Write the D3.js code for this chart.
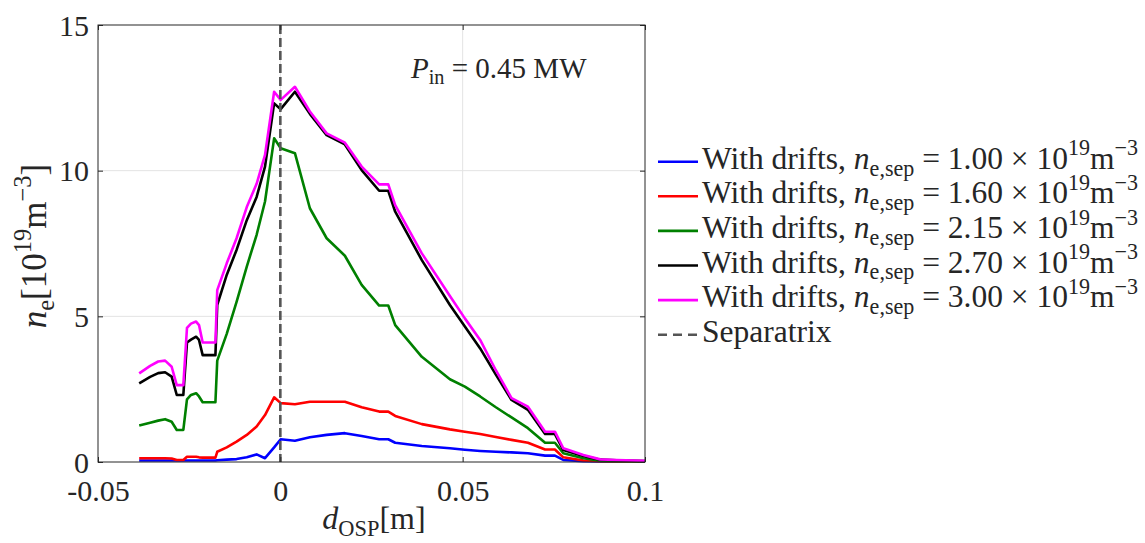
<!DOCTYPE html>
<html>
<head>
<meta charset="utf-8">
<script src="https://cdn.jsdelivr.net/npm/d3@7"></script>
<style>
  html, body { margin: 0; padding: 0; background: #fff; }
  svg { display: block; }
  text { font-family: "Liberation Serif", "DejaVu Serif", serif; fill: #262626; }
</style>
</head>
<body>
<svg id="chart" width="1145" height="543"></svg>
<script>
// ---------------- DATA ----------------
const dOSP = [-0.0387, -0.0357, -0.0335, -0.0316, -0.0298, -0.0284, -0.0266, -0.0256, -0.0245, -0.0231,
  -0.0223, -0.0213, -0.0178, -0.0173, -0.0147, -0.0120, -0.0092, -0.0065, -0.0042, -0.0017,
  0.0001, 0.0040, 0.0081, 0.0127, 0.0177, 0.0223, 0.0271, 0.0296, 0.0315, 0.0388,
  0.0465, 0.0506, 0.0548, 0.0591, 0.0634, 0.0679, 0.0726, 0.0753, 0.0776, 0.0831,
  0.0877, 0.0922, 0.1000];

const ne100 = [0.05, 0.05, 0.05, 0.05, 0.05, 0.05, 0.05, 0.05, 0.05, 0.05,
  0.05, 0.05, 0.05, 0.06, 0.08, 0.10, 0.16, 0.26, 0.13, 0.50,
  0.78, 0.73, 0.85, 0.93, 0.99, 0.89, 0.78, 0.78, 0.66, 0.55,
  0.47, 0.42, 0.38, 0.35, 0.33, 0.30, 0.22, 0.22, 0.07, 0.03,
  0.02, 0.02, 0.02];

const ne160 = [0.13, 0.13, 0.13, 0.13, 0.12, 0.07, 0.07, 0.18, 0.18, 0.18,
  0.16, 0.15, 0.15, 0.35, 0.50, 0.70, 0.93, 1.22, 1.61, 2.22,
  2.02, 1.98, 2.07, 2.07, 2.07, 1.88, 1.73, 1.73, 1.58, 1.30,
  1.12, 1.04, 0.96, 0.86, 0.76, 0.66, 0.43, 0.43, 0.16, 0.05,
  0.03, 0.02, 0.02];

const ne215 = [1.25, 1.35, 1.42, 1.47, 1.38, 1.10, 1.10, 2.15, 2.30, 2.36,
  2.25, 2.05, 2.05, 3.48, 4.40, 5.50, 6.71, 7.80, 8.94, 11.11,
  10.77, 10.60, 8.71, 7.68, 7.08, 6.08, 5.37, 5.37, 4.70, 3.61,
  2.84, 2.59, 2.25, 1.88, 1.53, 1.16, 0.66, 0.66, 0.30, 0.13,
  0.04, 0.03, 0.02];

const ne270 = [2.70, 2.92, 3.05, 3.08, 2.93, 2.30, 2.30, 4.10, 4.20, 4.30,
  4.19, 3.67, 3.67, 5.39, 6.42, 7.28, 8.30, 9.10, 10.14, 12.31,
  12.11, 12.71, 11.95, 11.22, 10.90, 10.02, 9.31, 9.31, 8.59, 6.93,
  5.39, 4.65, 3.90, 3.00, 2.13, 1.79, 0.96, 0.96, 0.41, 0.21,
  0.08, 0.06, 0.03];

const ne300 = [3.04, 3.30, 3.45, 3.48, 3.27, 2.64, 2.64, 4.60, 4.75, 4.82,
  4.70, 4.10, 4.10, 5.90, 6.82, 7.68, 8.75, 9.55, 10.54, 12.71,
  12.43, 12.88, 12.03, 11.28, 10.96, 10.14, 9.53, 9.53, 8.82, 7.16,
  5.70, 4.93, 4.19, 3.15, 2.19, 1.90, 1.04, 1.04, 0.47, 0.24,
  0.09, 0.07, 0.04];

const seriesValues = [ne100, ne160, ne215, ne270, ne300];
const seriesNesep = ["1.00", "1.60", "2.15", "2.70", "3.00"];
const seriesColors = ["#0000ff", "#ff0000", "#008000", "#000000", "#ff00ff"];

const xTicks = [-0.05, 0, 0.05, 0.1];
const xTickLabels = ["-0.05", "0", "0.05", "0.1"];
const yTicks = [0, 5, 10, 15];
const yTickLabels = ["0", "5", "10", "15"];
const separatrixX = 0;
const powerLabel = "0.45";

// ---------------- LAYOUT ----------------
const svg = d3.select("#chart");
const L = 98, R = 645, T = 25, B = 462;
const x = d3.scaleLinear().domain([-0.05, 0.1]).range([L, R]);
const y = d3.scaleLinear().domain([0, 15]).range([B, T]);
const axisColor = "#262626";

// rich text helper: segments [text, style, pos]
function rich(sel, segs, size) {
  let cur = 0;
  segs.forEach(([t, st, pos]) => {
    const fs = pos === "b" ? size : size * 0.7;
    const target = pos === "sub" ? size * 0.22 : pos === "sup" ? -size * 0.42 : 0;
    const ts = sel.append("tspan")
      .attr("font-size", fs)
      .attr("dy", target - cur)
      .text(t);
    if (st === "i") ts.attr("font-style", "italic");
    cur = target;
  });
}

// grid
const grid = svg.append("g");
grid.selectAll("line.gx").data(xTicks.filter(v => v > -0.05 && v < 0.1)).join("line")
  .attr("x1", d => x(d)).attr("x2", d => x(d)).attr("y1", T).attr("y2", B)
  .attr("stroke", "#e3e3e3").attr("stroke-width", 1);
grid.selectAll("line.gy").data(yTicks.filter(v => v > 0 && v < 15)).join("line")
  .attr("x1", L).attr("x2", R).attr("y1", d => y(d)).attr("y2", d => y(d))
  .attr("stroke", "#e3e3e3").attr("stroke-width", 1);

// series lines
const line = d3.line().x((d, i) => x(dOSP[i])).y(d => y(d));
svg.append("g").selectAll("path").data(seriesValues).join("path")
  .attr("d", d => line(d))
  .attr("fill", "none")
  .attr("stroke", (d, i) => seriesColors[i])
  .attr("stroke-width", 2.6)
  .attr("stroke-linejoin", "round");

// separatrix
svg.append("line")
  .attr("x1", x(separatrixX)).attr("x2", x(separatrixX))
  .attr("y1", T).attr("y2", B)
  .attr("stroke", "#555555").attr("stroke-width", 2.6)
  .attr("stroke-dasharray", "9,4");

// axes
const fs = 30;
const xAxis = svg.append("g").attr("transform", `translate(0,${B})`)
  .call(d3.axisBottom(x).tickValues(xTicks).tickFormat((d, i) => xTickLabels[i]).tickSizeInner(-5).tickSizeOuter(0));
const yAxis = svg.append("g").attr("transform", `translate(${L},0)`)
  .call(d3.axisLeft(y).tickValues(yTicks).tickFormat((d, i) => yTickLabels[i]).tickSizeInner(-5).tickSizeOuter(0));
const xTop = svg.append("g").attr("transform", `translate(0,${T})`)
  .call(d3.axisTop(x).tickValues(xTicks).tickFormat("").tickSizeInner(-5).tickSizeOuter(0));
const yRight = svg.append("g").attr("transform", `translate(${R},0)`)
  .call(d3.axisRight(y).tickValues(yTicks).tickFormat("").tickSizeInner(-5).tickSizeOuter(0));
[xAxis, yAxis, xTop, yRight].forEach(a => {
  a.select(".domain").remove();
  a.selectAll("line").attr("stroke", axisColor).attr("stroke-width", 1);
  a.selectAll("text").attr("font-family", "Liberation Serif").attr("font-size", fs).attr("fill", axisColor);
});
xAxis.selectAll("text").attr("y", 39).attr("dy", 0);
yAxis.selectAll("text").attr("x", -9).attr("dy", "0.34em");

// box
svg.append("rect").attr("x", L).attr("y", T).attr("width", R - L).attr("height", B - T)
  .attr("fill", "none").attr("stroke", axisColor).attr("stroke-width", 1);

// axis labels
const lab = 35;
const xlab = 32;
const xl = svg.append("text").attr("x", 374).attr("y", 529).attr("text-anchor", "middle").attr("font-size", xlab);
rich(xl, [["d", "i", "b"], ["OSP", "n", "sub"], ["[m]", "n", "b"]], xlab);

const yl = svg.append("text").attr("transform", "translate(46,246) rotate(-90)").attr("text-anchor", "middle").attr("font-size", lab);
rich(yl, [["n", "i", "b"], ["e", "n", "sub"], ["[10", "n", "b"], ["19", "n", "sup"], ["m", "n", "b"], ["\u22123", "n", "sup"], ["]", "n", "b"]], lab);

// annotation
const ann = svg.append("text").attr("x", 411).attr("y", 78).attr("font-size", 29);
rich(ann, [["P", "i", "b"], ["in", "n", "sub"], [" = " + powerLabel + " MW", "n", "b"]], 29);

// legend
const lg = svg.append("g");
const lfs = 31.5, rowH = 34.6, ly0 = 161.7;
seriesNesep.forEach((v, i) => {
  const cy = ly0 + i * rowH;
  lg.append("line").attr("x1", 658).attr("x2", 698).attr("y1", cy).attr("y2", cy)
    .attr("stroke", seriesColors[i]).attr("stroke-width", 2.6);
  const t = lg.append("text").attr("x", 702).attr("y", cy + 7).attr("font-size", lfs);
  rich(t, [["With drifts, ", "n", "b"], ["n", "i", "b"], ["e,sep", "n", "sub"],
    [" = " + v + " \u00d7 10", "n", "b"], ["19", "n", "sup"], ["m", "n", "b"], ["\u22123", "n", "sup"]], lfs);
});
{
  const cy = ly0 + 5 * rowH;
  lg.append("line").attr("x1", 658).attr("x2", 698).attr("y1", cy).attr("y2", cy)
    .attr("stroke", "#555555").attr("stroke-width", 2.6).attr("stroke-dasharray", "9,6");
  lg.append("text").attr("x", 702).attr("y", cy + 7).attr("font-size", lfs).text("Separatrix");
}
</script>
</body>
</html>
